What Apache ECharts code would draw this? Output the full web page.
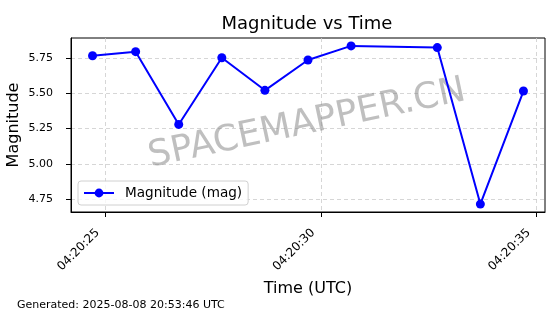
<!DOCTYPE html>
<html>
<head>
<meta charset="utf-8">
<script src="https://cdn.jsdelivr.net/npm/echarts@6/dist/echarts.min.js"></script>
<style>
html,body{margin:0;padding:0;background:#fff;}
#chart{width:560px;height:314px;}
</style>
</head>
<body>
<div id="chart"></div>
<script>
// ---- data ----
var titleText = 'Magnitude vs Time';
var seriesName = 'Magnitude (mag)';
var timeStamps = ['04:20:24.7', '04:20:25.7', '04:20:26.7', '04:20:27.7', '04:20:28.7',
                  '04:20:29.7', '04:20:30.7', '04:20:32.7', '04:20:33.7', '04:20:34.7'];
var magnitudes = [5.766, 5.795, 5.279, 5.752, 5.521, 5.736, 5.836, 5.824, 4.714, 5.516];
var xTickSeconds = [25, 30, 35];
var yTicks = [4.75, 5.00, 5.25, 5.50, 5.75];
var xAxisTitle = 'Time (UTC)';
var yAxisTitle = 'Magnitude';
var watermark = 'SPACEMAPPER.CN';
var footer = 'Generated: 2025-08-08 20:53:46 UTC';

// ---- build ----
function toSec(s) { var p = s.split(':'); return parseFloat(p[2]); }
function pad2(n) { return (n < 10 ? '0' : '') + n; }
var secs = timeStamps.map(toSec);
var points = secs.map(function (s, i) { return [s, magnitudes[i]]; });
var xMin = Math.min.apply(null, secs), xMax = Math.max.apply(null, secs);
var xPad = (xMax - xMin) * 0.05;
var yMinD = Math.min.apply(null, magnitudes), yMaxD = Math.max.apply(null, magnitudes);
var yPad = (yMaxD - yMinD) * 0.05;

var FONT = 'DejaVu Sans';
var chart = echarts.init(document.getElementById('chart'), null, {renderer: 'canvas'});
chart.setOption({
  animation: false,
  backgroundColor: '#fff',
  textStyle: {fontFamily: FONT},
  grid: {left: 71, right: 15, top: 38, bottom: 102, containLabel: false, outerBoundsMode: 'none',
         show: true, borderColor: '#000', borderWidth: 1, backgroundColor: 'transparent'},
  xAxis: {
    type: 'value',
    min: xMin - xPad, max: xMax + xPad,
    name: xAxisTitle, nameLocation: 'middle', nameGap: 69, nameMoveOverlap: false,
    nameTextStyle: {fontFamily: FONT, fontSize: 16, color: '#000'},
    axisLine: {show: true, onZero: false, lineStyle: {color: '#000', width: 1}},
    axisTick: {show: true, length: 5, inside: false, lineStyle: {color: '#000'}, customValues: xTickSeconds},
    axisLabel: {
      customValues: xTickSeconds, rotate: 45, margin: 11,
      fontFamily: FONT, fontSize: 12, color: '#000', padding: [0, 11, 0, 0],
      formatter: function (v) { return '04:20:' + pad2(Math.round(v)); }
    },
    splitLine: {show: true, lineStyle: {color: '#cccccc', type: [4, 3], width: 0.8}}
  },
  yAxis: {
    type: 'value',
    min: yMinD - yPad, max: yMaxD + yPad,
    name: yAxisTitle, nameLocation: 'middle', nameGap: 57, nameMoveOverlap: false,
    nameTextStyle: {fontFamily: FONT, fontSize: 16, color: '#000', align: 'center', verticalAlign: 'middle'},
    axisLine: {show: true, onZero: false, lineStyle: {color: '#000', width: 1}},
    axisTick: {show: true, length: 5, inside: false, lineStyle: {color: '#000'}, customValues: yTicks},
    axisLabel: {
      customValues: yTicks, margin: 18,
      fontFamily: FONT, fontSize: 11, color: '#000',
      formatter: function (v) { return v.toFixed(2); }
    },
    splitLine: {show: true, lineStyle: {color: '#cccccc', type: [4, 3], width: 0.8}}
  },
  legend: {
    data: [seriesName],
    left: 78, top: 181,
    padding: [5, 6, 5, 5],
    itemWidth: 30, itemHeight: 11,
    backgroundColor: 'rgba(255,255,255,0.8)',
    borderColor: '#d0d0d0', borderWidth: 1, borderRadius: 3,
    textStyle: {fontFamily: FONT, fontSize: 13.6, color: '#000', padding: [0, 0, 0, 6]}
  },
  graphic: [
    {type: 'text', x: 307, y: 24, z: 10,
     style: {text: titleText, fontFamily: FONT, fontSize: 18, fill: '#000', align: 'center', verticalAlign: 'middle'}},
    {type: 'text', x: 17, y: 305, z: 10,
     style: {text: footer, fontFamily: FONT, fontSize: 11, fill: '#000', align: 'left', verticalAlign: 'middle'}},
    {type: 'text', x: 307, y: 124, z: 1, rotation: 12 * Math.PI / 180,
     style: {text: watermark, fontFamily: FONT, fontSize: 36, fill: 'rgba(128,128,128,0.5)', align: 'center', verticalAlign: 'middle'}}
  ],
  series: [{
    name: seriesName,
    type: 'line',
    data: points,
    symbol: 'circle', symbolSize: 9,
    lineStyle: {color: '#0000ff', width: 2},
    itemStyle: {color: '#0000ff'},
    z: 5
  }]
});
</script>
</body>
</html>
